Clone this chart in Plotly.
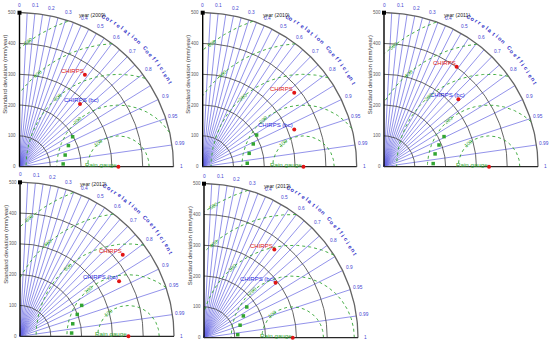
import numpy as np
import plotly.graph_objects as go

# ---------------- data ----------------
years = ["2009", "2010", "2011", "2012", "2013"]
gauge_std = [321, 327, 341, 352, 288]
chirps_std = [366, 382, 401, 426, 366]
chirps_cor = [0.580, 0.778, 0.588, 0.783, 0.624]
chirps_bc_std = [283, 321, 326, 368, 293]
chirps_bc_cor = [0.694, 0.926, 0.741, 0.874, 0.793]
other_std = [[142, 153, 173, 198], [145, 157, 180, 203], [160, 171, 192, 218],
             [168, 176, 199, 224], [110, 124, 146, 171]]
other_cor = [[0.998, 0.969, 0.918, 0.871], [0.997, 0.961, 0.912, 0.862],
             [0.998, 0.970, 0.930, 0.894], [0.998, 0.973, 0.934, 0.894],
             [0.996, 0.945, 0.875, 0.812]]
std_ticks = [0, 100, 200, 300, 400, 500]
std_max = 500
rms_ticks = [100, 200, 300, 400, 500]
cor_ticks = [0, 0.1, 0.2, 0.3, 0.4, 0.5, 0.6, 0.7, 0.8, 0.9, 0.95, 0.99, 1]
cor_tick_labels = ["0", "0.1", "0.2", "0.3", "0.4", "0.5", "0.6", "0.7", "0.8",
                   "0.9", "0.95", "0.99", "1"]
cor_grid = [0.05, 0.1, 0.15, 0.2, 0.25, 0.3, 0.35, 0.4, 0.45, 0.5, 0.55, 0.6,
            0.65, 0.7, 0.75, 0.8, 0.85, 0.9, 0.95, 0.99]
ytitle = "Standard deviation (mm/year)"
cor_title = "Correlation Coefficient"

# ---------------- geometry (pixels) ----------------
W, H = 550, 344
S = 154 / 500.0  # px per data unit
panels = [
    dict(o=(19.5, 166.7), box=(0, 185, 0, 172)),
    dict(o=(202.7, 166.7), box=(185, 366, 0, 172)),
    dict(o=(384, 166.7), box=(366, 550, 0, 172)),
    dict(o=(20, 336.3), box=(0, 185, 172, 344)),
    dict(o=(204, 337.7), box=(185, 370, 172, 344)),
]
bc_xshift = [20, 0, 8, 0, 0]
FONT = "Liberation Sans, Arial, sans-serif"
BLUE_LINE = "rgb(100,100,225)"
BLUE_TXT = "rgb(70,70,210)"
GREEN = "rgb(50,165,50)"
RED = "rgb(225,20,20)"

fig = go.Figure()
layout = dict(width=W, height=H, margin=dict(l=0, r=0, t=0, b=0),
              paper_bgcolor="white", plot_bgcolor="rgba(0,0,0,0)",
              showlegend=False)
annotations = []


def pol(r, c):
    c = np.asarray(c, dtype=float)
    return r * c, r * np.sqrt(np.clip(1 - c * c, 0, None))


for i, p in enumerate(panels):
    xa = "x" if i == 0 else f"x{i+1}"
    ya = "y" if i == 0 else f"y{i+1}"
    xk = "xaxis" if i == 0 else f"xaxis{i+1}"
    yk = "yaxis" if i == 0 else f"yaxis{i+1}"
    ox, oy = p["o"]
    L, R, T, B = p["box"]
    layout[xk] = dict(domain=[L / W, R / W], range=[(L - ox) / S, (R - ox) / S],
                      visible=False, fixedrange=True, anchor=ya)
    layout[yk] = dict(domain=[1 - B / H, 1 - T / H], range=[(oy - B) / S, (oy - T) / S],
                      visible=False, fixedrange=True, anchor=xa)

    def add(**kw):
        fig.add_trace(go.Scatter(xaxis=xa, yaxis=ya, hoverinfo="skip", **kw))

    def ann(x, y, text, size, color, angle=0, xanchor="center", yanchor="middle",
            xshift=0, yshift=0):
        annotations.append(dict(x=x, y=y, xref=xa, yref=ya, text=text, showarrow=False,
                                textangle=angle, xanchor=xanchor, yanchor=yanchor,
                                xshift=xshift, yshift=yshift, borderpad=0,
                                font=dict(family=FONT, size=size, color=color)))

    # correlation radial lines
    xs, ys = [], []
    for c in cor_grid:
        gx, gy = pol(std_max, c)
        xs += [0, float(gx), None]
        ys += [0, float(gy), None]
    add(x=xs, y=ys, mode="lines", line=dict(color=BLUE_LINE, width=0.7))

    # std arcs
    t = np.linspace(0, np.pi / 2, 120)
    xs, ys = [], []
    for s in std_ticks[1:-1]:
        xs += list(s * np.cos(t)) + [None]
        ys += list(s * np.sin(t)) + [None]
    add(x=xs, y=ys, mode="lines", line=dict(color="rgb(60,60,60)", width=0.8))
    add(x=std_max * np.cos(t), y=std_max * np.sin(t), mode="lines",
        line=dict(color="rgb(100,100,100)", width=1.3))

    # RMS arcs centred on reference
    ref = gauge_std[i]
    phi = np.linspace(0, np.pi, 400)
    xs, ys = [], []
    for r in rms_ticks:
        px = ref + r * np.cos(phi)
        py = r * np.sin(phi)
        ok = (px >= 0) & (px * px + py * py <= std_max ** 2)
        xs += [float(a) if k else None for a, k in zip(px, ok)] + [None]
        ys += [float(b) if k else None for b, k in zip(py, ok)] + [None]
    add(x=xs, y=ys, mode="lines", connectgaps=False,
        line=dict(color=GREEN, width=0.9, dash="dot"))

    # axes
    add(x=[0, 0], y=[0, std_max], mode="lines", line=dict(color="black", width=1.4))
    add(x=[0, std_max], y=[0, 0], mode="lines", line=dict(color="rgb(40,40,40)", width=1.2))
    add(x=[0], y=[std_max], mode="markers", marker=dict(symbol="square", size=4, color="black"))

    # other green points
    gx, gy = pol(np.array(other_std[i], float), other_cor[i])
    add(x=gx, y=gy, mode="markers",
        marker=dict(symbol="square", size=3.5, color=GREEN))

    # red points
    cx, cy = pol(chirps_std[i], chirps_cor[i])
    bx, by = pol(chirps_bc_std[i], chirps_bc_cor[i])
    add(x=[float(cx), float(bx), ref], y=[float(cy), float(by), 0], mode="markers",
        marker=dict(size=4, color=RED), cliponaxis=False)

    ann(float(cx), float(cy), "CHIRPS", 6, RED, xanchor="right", yshift=3.5)
    ann(float(bx), float(by), "CHIRPS (bc)", 6, "rgb(40,40,220)", xanchor="right",
        xshift=bc_xshift[i], yshift=4)
    ann(ref, 0, "Rain gauge", 6.2, GREEN, xanchor="right", yshift=2.5)

    # std tick labels
    for s in std_ticks:
        ann(-8, s, str(s), 4.5, "rgb(90,90,90)", xanchor="right")
    ann(-46, 300, ytitle, 6, "rgb(60,60,60)", angle=-90)

    # correlation tick labels
    for c, lab in zip(cor_ticks, cor_tick_labels):
        lx, ly = pol(525, c)
        ann(float(lx), float(ly), lab, 4.8, BLUE_TXT)

    # Correlation Coefficient curved label
    n = len(cor_title)
    for k, ch in enumerate(cor_title):
        if ch == " ":
            continue
        th = np.deg2rad(60.5 - k * (31.5 / (n - 1)))
        ann(float(560 * np.cos(th)), float(560 * np.sin(th)), "<b>" + ch + "</b>",
            5.6, "rgb(50,50,200)", angle=90 - np.rad2deg(th))

    # RMS labels
    for r in rms_ticks:
        a = np.deg2rad(131)
        if ref + r * np.cos(a) < 30:
            a = np.arccos((30 - ref) / r)
        ann(float(ref + r * np.cos(a)), float(r * np.sin(a)), str(r), 5.3, GREEN,
            angle=90 - np.rad2deg(a))

    # panel title
    ann(238, 493, f"year ({years[i]})", 5.2, "rgb(30,30,30)")

layout["annotations"] = annotations
fig.update_layout(**layout)
fig.write_html("out.html", config={"displayModeBar": False},
               post_script="document.body.style.margin='0';document.body.style.overflow='hidden';")
